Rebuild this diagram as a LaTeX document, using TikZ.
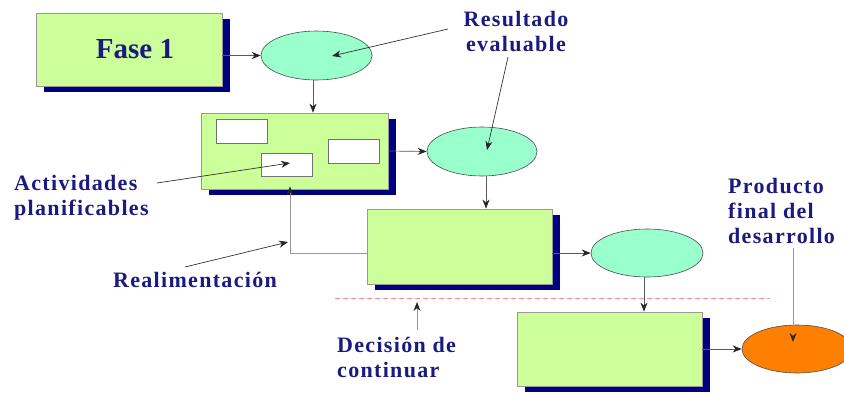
\documentclass[tikz,border=0pt]{standalone}
\usepackage{fontspec}
\setmainfont{Liberation Serif}
\newfontfamily\lblfont[LetterSpace=6]{Liberation Serif}
\usetikzlibrary{arrows.meta,shapes.geometric,shadows}
\definecolor{boxgreen}{HTML}{CCFF99}
\definecolor{aqua}{HTML}{99FFCC}
\definecolor{orng}{HTML}{FF8000}
\definecolor{shadowblue}{HTML}{000080}
\definecolor{txtblue}{HTML}{1A1A80}
\definecolor{dashred}{HTML}{FF9090}
\tikzset{
  phase/.style={draw=gray!80, line width=0.8pt, fill=boxgreen, rectangle, inner sep=0pt,
    drop shadow={fill=shadowblue, opacity=1, shadow xshift=8pt, shadow yshift=-6pt}},
  inner/.style={draw=gray!90!black, line width=0.8pt, fill=white, rectangle, inner sep=0pt,
    minimum width=51pt, minimum height=24pt},
  result/.style={draw=black!70, line width=0.6pt, fill=aqua, ellipse, inner sep=0pt},
  lbl/.style={text=txtblue, font=\lblfont\bfseries\fontsize{22}{25}\selectfont, inner sep=0pt},
  tip/.style={-{Stealth[length=9pt,width=7pt,color=black!85]}},
  flow/.style={draw=black!65, line width=0.7pt, tip},
  pointer/.style={draw=black!80, line width=0.7pt, tip},
  light/.style={draw=black!40, line width=0.9pt, tip},
}
\begin{document}
\begin{tikzpicture}[x=1pt, y=-1pt]
\useasboundingbox (0,0) rectangle (844,394);

% boxes
\node[phase, minimum width=186pt, minimum height=73pt, text=txtblue,
  font=\bfseries\fontsize{29}{30}\selectfont] (fase) at (129,49.5) {\hspace*{12pt}Fase 1};
\node[phase, minimum width=187pt, minimum height=76pt] (box2) at (294.5,151) {};
\node[phase, minimum width=185pt, minimum height=75pt] (box3) at (459.5,246.5) {};
\node[phase, minimum width=185pt, minimum height=74pt] (box4) at (609.5,349) {};

% inner activity boxes
\node[inner] (r1) at (241.5,131) {};
\node[inner] (r2) at (353.5,151) {};
\node[inner, minimum height=23pt] (r3) at (286.5,164.5) {};

% results
\node[result, minimum width=111pt, minimum height=49pt] (e1) at (316.5,55.5) {};
\node[result, minimum width=110pt, minimum height=49pt] (e2) at (482,151.5) {};
\node[result, minimum width=112pt, minimum height=48pt] (e3) at (647,253) {};
\node[draw=black!70, line width=0.6pt, fill=orng, ellipse, inner sep=0pt,
  minimum width=110pt, minimum height=48pt] (e4) at (797,349) {};

% labels
\node[lbl, align=center] (lres) at (516,31) {Resultado\\evaluable};
\node[lbl, align=left, anchor=west] (lact) at (14,198) {Actividades\\planificables};
\node[lbl] (lreal) at (195,280) {Realimentación};
\node[lbl, align=left, anchor=west] (ldec) at (337,357) {Decisión de\\continuar};
\node[lbl, align=left, anchor=west] (lprod) at (728,211) {Producto\\final del\\desarrollo};

% flow connectors
\draw[flow] (fase.east |- e1.west) -- (e1.west);
\draw[flow] ([xshift=-3.5pt]e1.south) -- ([xshift=-3.5pt]e1.south |- box2.north);
\draw[flow] (box2.east) -- (e2.west);
\draw[flow] ([xshift=4pt]e2.south) -- ([xshift=4pt]e2.south |- box3.north);
\draw[flow] (box3.east |- e3.west) -- (e3.west);
\draw[flow] ([xshift=-3pt]e3.south) -- ([xshift=-3pt]e3.south |- box4.north);
\draw[flow] (box4.east) -- (e4.west);
\draw[light] (box3.west |- e3.west) -| ([xshift=-4.5pt,yshift=3pt]box2.south);

% decision line
\coordinate (dl) at (335,298);
\coordinate (dr) at (770,298);
\draw[dashred, line width=1pt, dash pattern=on 5pt off 3pt] (dl) -- (dr);

% pointer connectors
\coordinate (p1s) at (448,29);  \coordinate (p1e) at (332,56);
\coordinate (p2s) at (508,57);  \coordinate (p2e) at (487,150);
\coordinate (p3s) at (157,183); \coordinate (p3e) at (290,163);
\coordinate (p4s) at (185,267); \coordinate (p4e) at (288,242);
\coordinate (p5s) at (417,330); \coordinate (p5e) at (417,302);
\coordinate (p6s) at (793,248); \coordinate (p6e) at (793,342);
\draw[pointer] (p1s) -- (p1e);
\draw[pointer] (p2s) -- (p2e);
\draw[pointer] (p3s) -- (p3e);
\draw[pointer] (p4s) -- (p4e);
\draw[light] (p5s) -- (p5e);
\draw[light] (p6s) -- (p6e);
\end{tikzpicture}
\end{document}
